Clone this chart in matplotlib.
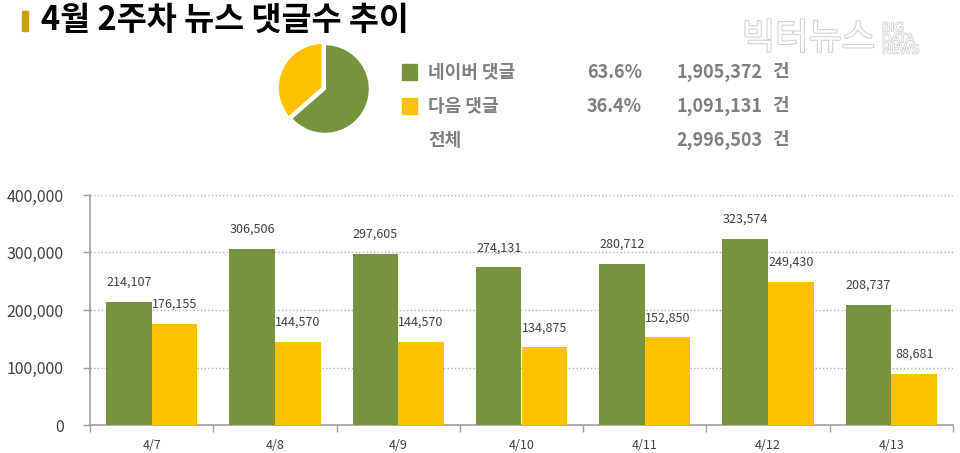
import matplotlib
matplotlib.use('Agg')
import matplotlib.pyplot as plt
import matplotlib.patheffects as pe
from matplotlib.patches import Rectangle
from matplotlib.ticker import FuncFormatter

plt.rcParams['font.family'] = ['Noto Sans CJK KR', 'DejaVu Sans']

TITLE = '4월 2주차 뉴스 댓글수 추이'
DATES = ['4/7', '4/8', '4/9', '4/10', '4/11', '4/12', '4/13']
NAVER = [214107, 306506, 297605, 274131, 280712, 323574, 208737]
DAUM = [176155, 144570, 144570, 134875, 152850, 249430, 88681]
LEGEND_NAMES = ['네이버 댓글', '다음 댓글', '전체']
LEGEND_PCT = ['63.6%', '36.4%', '']
LEGEND_TOTALS = [1905372, 1091131, 2996503]
PIE_SHARES = [63.6, 36.4]

GREEN = '#77933c'
YELLOW = '#ffc000'
GRAY = '#7f7f7f'

W, H = 960, 453


def fx(px):
    return px / W


def fy(py):
    return 1 - py / H


def main():
    fig = plt.figure(figsize=(9.6, 4.53), dpi=100)

    # title with small gold marker
    fig.add_artist(Rectangle((fx(22), fy(31)), 6 / W, 20 / H,
                             transform=fig.transFigure, color='#c9a000'))
    fig.text(fx(41), fy(20), TITLE, fontsize=23.5, fontweight='bold',
             color='black', va='center', ha='left')

    # watermark
    wm = fig.text(fx(742), fy(39), '빅터뉴스', fontsize=26,
                  color='white', va='center', ha='left')
    wm.set_path_effects([pe.Stroke(linewidth=1.5, foreground='#d0d0d0'), pe.Normal()])
    wm2 = fig.text(fx(882), fy(39), 'BIG\nDATA\nNEWS', fontsize=9,
                   color='white', va='center', ha='left', linespacing=0.8,
                   family='DejaVu Sans')
    wm2.set_path_effects([pe.Stroke(linewidth=1.0, foreground='#c8c8c8'), pe.Normal()])

    # pie
    size = 112
    pax = fig.add_axes([fx(325 - size / 2), fy(89 + size / 2), size / W, size / H])
    pax.pie(PIE_SHARES, colors=[GREEN, YELLOW], startangle=90, counterclock=False,
            explode=[0, 0.06], wedgeprops=dict(edgecolor='white', linewidth=1.5))
    pax.set_aspect('equal')

    # pie legend block
    rows_y = [72, 106, 140]
    for i, name in enumerate(LEGEND_NAMES):
        y = fy(rows_y[i])
        if i < 2:
            fig.add_artist(Rectangle((fx(402), y - 7.5 / H), 15 / W, 15 / H,
                                     transform=fig.transFigure,
                                     color=[GREEN, YELLOW][i]))
        fig.text(fx(428), y, name, fontsize=13, fontweight='bold', color=GRAY,
                 va='center', ha='left')
        if LEGEND_PCT[i]:
            fig.text(fx(642), y, LEGEND_PCT[i], fontsize=13, fontweight='bold',
                     color=GRAY, va='center', ha='right')
        fig.text(fx(763), y, f'{LEGEND_TOTALS[i]:,}', fontsize=13,
                 fontweight='bold', color=GRAY, va='center', ha='right')
        fig.text(fx(772), y, '건', fontsize=13, fontweight='bold', color=GRAY,
                 va='center', ha='left')

    # bar chart
    ax = fig.add_axes([fx(90), fy(425), (953 - 90) / W, (425 - 195) / H])
    n = len(DATES)
    bw = 0.37
    xs = list(range(n))
    ax.bar([x - bw / 2 for x in xs], NAVER, width=bw, color=GREEN, zorder=3)
    ax.bar([x + bw / 2 for x in xs], DAUM, width=bw, color=YELLOW, zorder=3)

    for x, v in zip(xs, NAVER):
        ax.annotate(f'{v:,}', (x - bw / 2, v), xytext=(0, 14),
                    textcoords='offset points', ha='center', va='center',
                    fontsize=9, color='#404040')
    for x, v in zip(xs, DAUM):
        ax.annotate(f'{v:,}', (x + bw / 2, v), xytext=(0, 14),
                    textcoords='offset points', ha='center', va='center',
                    fontsize=9, color='#404040')

    ax.set_xlim(-0.5, n - 0.5)
    ax.set_ylim(0, 400000)
    ax.set_yticks([0, 100000, 200000, 300000, 400000])
    ax.yaxis.set_major_formatter(FuncFormatter(lambda v, p: f'{int(v):,}'))
    ax.set_xticks(xs)
    ax.set_xticklabels(DATES)
    ax.set_xticks([x - 0.5 for x in range(n + 1)], minor=True)
    ax.tick_params(axis='x', which='major', length=0, pad=10, labelsize=9,
                   labelcolor='#404040')
    ax.tick_params(axis='x', which='minor', length=5, color='#a0a0a0', width=1)
    ax.tick_params(axis='y', length=5, color='#a0a0a0', width=1, pad=14,
                   labelsize=11.5, labelcolor='#404040')
    ax.grid(axis='y', linestyle=':', color='#b0b0b0', linewidth=1, zorder=0)
    for side in ['top', 'right']:
        ax.spines[side].set_visible(False)
    for side in ['left', 'bottom']:
        ax.spines[side].set_color('#a0a0a0')
        ax.spines[side].set_linewidth(1.2)

    fig.savefig('out.png', dpi=100)


if __name__ == '__main__':
    main()
